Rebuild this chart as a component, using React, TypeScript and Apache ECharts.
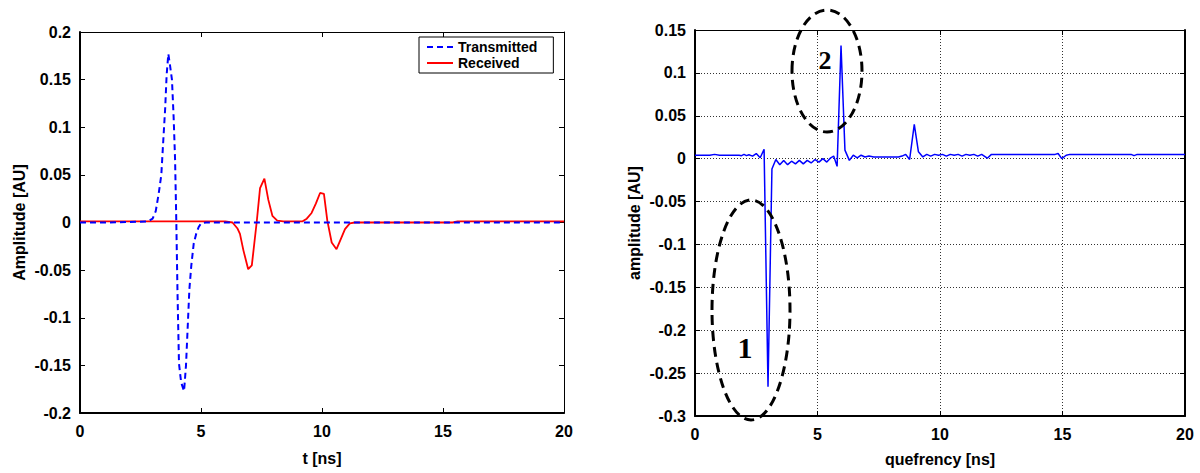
import React, { useEffect, useRef } from "react";
import * as echarts from "echarts";

// ---- Left plot: time-domain signals ----
const txT = [0, 1, 2, 2.5, 2.8, 3.0, 3.13, 3.25, 3.36, 3.45, 3.52, 3.58, 3.65, 3.72, 3.8, 3.87, 3.93, 3.98, 4.03, 4.09, 4.18, 4.3, 4.38, 4.45, 4.52, 4.6, 4.7, 4.8, 4.9, 5.0, 5.2, 8, 12, 16, 20];
const txV = [0, 0, 0.0005, 0.0008, 0.001, 0.004, 0.012, 0.03, 0.05, 0.09, 0.12, 0.155, 0.177, 0.165, 0.15, 0.11, 0.065, 0.0, -0.075, -0.148, -0.168, -0.177, -0.15, -0.11, -0.07, -0.045, -0.022, -0.012, -0.005, -0.001, 0, 0, 0, 0, 0];

const rxT = [0, 3, 6.0, 6.3, 6.5, 6.61, 6.75, 6.95, 7.1, 7.3, 7.44, 7.62, 7.78, 7.95, 8.15, 8.4, 9.2, 9.37, 9.57, 9.75, 9.92, 10.08, 10.22, 10.4, 10.6, 10.75, 10.95, 11.15, 11.35, 15.4, 15.6, 20];
const rxV = [0.0012, 0.0012, 0.0012, 0.0, -0.006, -0.012, -0.029, -0.049, -0.045, 0.0, 0.036, 0.046, 0.024, 0.007, 0.002, 0.0012, 0.0012, 0.004, 0.01, 0.02, 0.031, 0.03, 0.002, -0.021, -0.028, -0.019, -0.007, -0.001, 0.0, 0.0, 0.0012, 0.0012];

// ---- Right plot: cepstrum ----
const qT = [0, 0.6, 0.8, 1.0, 1.8, 1.9, 2.0, 2.1, 2.2, 2.35, 2.5, 2.66, 2.82, 2.98, 3.14, 3.3, 3.46, 3.62, 3.78, 3.94, 4.1, 4.26, 4.42, 4.58, 4.74, 4.9, 5.06, 5.22, 5.38, 5.54, 5.66, 5.8, 5.96, 6.12, 6.3, 6.46, 6.62, 6.78, 6.94, 7.1, 7.3, 8.0, 8.3, 8.45, 8.6, 8.76, 8.95, 9.12, 9.3, 9.46, 9.62, 9.78, 9.94, 10.1, 10.26, 10.42, 10.58, 10.74, 10.9, 11.06, 11.22, 11.38, 11.54, 11.7, 11.93, 12.1, 14.7, 14.82, 14.97, 15.15, 15.3, 15.5, 17.8, 17.92, 18.05, 20];
const qV = [0.004, 0.004, 0.005, 0.004, 0.004, 0.0035, 0.005, 0.0035, 0.0045, 0.003, 0.006, 0.001, 0.011, -0.266, -0.012, -0.001, -0.007, -0.002, -0.007, -0.003, -0.006, -0.002, -0.006, -0.002, -0.005, -0.001, -0.004, 0.0, -0.004, 0.001, 0.003, -0.009, 0.132, 0.01, -0.002, 0.004, 0.001, 0.004, 0.002, 0.003, 0.002, 0.002, 0.002, 0.003, 0.005, -0.001, 0.04, 0.008, 0.002, 0.005, 0.003, 0.005, 0.004, 0.005, 0.003, 0.005, 0.004, 0.005, 0.003, 0.005, 0.004, 0.005, 0.003, 0.005, 0.0005, 0.005, 0.005, 0.006, 0.0, 0.004, 0.005, 0.005, 0.005, 0.0035, 0.005, 0.005];

const leftTicks = { min: -0.2, max: 0.2, interval: 0.05 };
const rightTicks = { min: -0.3, max: 0.15, interval: 0.05 };

const FONT = '"Liberation Sans", Arial, Helvetica, sans-serif';

function zip(a: number[], b: number[]) {
  return a.map((x, i) => [x, b[i]]);
}

export default function App() {
  const ref = useRef<HTMLDivElement>(null);
  useEffect(() => {
    if (!ref.current) return;
    const chart = echarts.init(ref.current, null, { renderer: "svg" });
    const labelStyle = { color: "#000", fontSize: 16, fontWeight: "bold", fontFamily: FONT };
    const nameStyle = { color: "#000", fontSize: 16, fontWeight: "bold", fontFamily: FONT };
    const tick = { show: true, inside: true, length: 5, lineStyle: { color: "#000", width: 1 } };
    const gridLine = { show: true, lineStyle: { color: "#333", width: 1, type: [1, 2] } };
    const mainX = (gi: number, name: string, gap: number, split: boolean) => ({
      gridIndex: gi,
      type: "value",
      min: 0,
      max: 20,
      interval: 5,
      name,
      nameLocation: "middle",
      nameGap: gap,
      nameTextStyle: nameStyle,
      axisLine: { onZero: false, lineStyle: { color: "#000", width: 2 } },
      axisTick: tick,
      axisLabel: { ...labelStyle, margin: 10 },
      splitLine: split ? gridLine : { show: false },
    });
    const secX = (gi: number) => ({
      gridIndex: gi,
      type: "value",
      position: "top",
      min: 0,
      max: 20,
      interval: 5,
      axisLine: { onZero: false, lineStyle: { color: "#000", width: 1 } },
      axisTick: tick,
      axisLabel: { show: false },
      splitLine: { show: false },
    });
    const mainY = (gi: number, t: any, name: string, split: boolean) => ({
      gridIndex: gi,
      type: "value",
      min: t.min,
      max: t.max,
      interval: t.interval,
      name,
      nameLocation: "middle",
      nameGap: 53,
      nameTextStyle: nameStyle,
      axisLine: { show: true, onZero: false, lineStyle: { color: "#000", width: 2 } },
      axisTick: tick,
      axisLabel: { ...labelStyle, margin: 9 },
      splitLine: split ? gridLine : { show: false },
    });
    const secY = (gi: number, t: any, w: number) => ({
      gridIndex: gi,
      type: "value",
      position: "right",
      min: t.min,
      max: t.max,
      interval: t.interval,
      axisLine: { show: true, onZero: false, lineStyle: { color: "#000", width: w } },
      axisTick: tick,
      axisLabel: { show: false },
      splitLine: { show: false },
    });

    const option: any = {
      animation: false,
      backgroundColor: "#fff",
      grid: [
        { left: 80, top: 32, width: 484, height: 381 },
        { left: 695, top: 30, width: 490, height: 386 },
      ],
      xAxis: [mainX(0, "t [ns]", 37, false), secX(0), mainX(1, "quefrency [ns]", 35, true), secX(1)],
      yAxis: [mainY(0, leftTicks, "Amplitude [AU]", false), secY(0, leftTicks, 1), mainY(1, rightTicks, "amplitude [AU]", true), secY(1, rightTicks, 2)],
      legend: {
        data: ["Transmitted", "Received"],
        orient: "vertical",
        left: 419,
        top: 37,
        backgroundColor: "#fff",
        borderColor: "#000",
        borderWidth: 1,
        borderRadius: 0,
        padding: [3, 16, 3, 7],
        itemWidth: 26,
        itemHeight: 12,
        itemGap: 2,
        itemStyle: { opacity: 0 },
        textStyle: { color: "#000", fontSize: 14, fontWeight: "bold", fontFamily: FONT },
      },
      series: [
        {
          name: "Transmitted",
          type: "line",
          xAxisIndex: 0,
          yAxisIndex: 0,
          data: zip(txT, txV),
          showSymbol: false,
          symbol: "none",
          color: "#0000ff",
          lineStyle: { color: "#0000ff", width: 2, type: [6, 4] },
          z: 3,
        },
        {
          name: "Received",
          type: "line",
          xAxisIndex: 0,
          yAxisIndex: 0,
          data: zip(rxT, rxV),
          showSymbol: false,
          symbol: "none",
          color: "#ff0000",
          lineStyle: { color: "#ff0000", width: 1.8 },
          z: 2,
        },
        {
          name: "Cepstrum",
          type: "line",
          xAxisIndex: 2,
          yAxisIndex: 2,
          data: zip(qT, qV),
          showSymbol: false,
          symbol: "none",
          color: "#0000ff",
          lineStyle: { color: "#0000ff", width: 1.5 },
        },
      ],
      graphic: [
        {
          type: "ellipse",
          shape: { cx: 751, cy: 310, rx: 39, ry: 110 },
          style: { fill: "none", stroke: "#000", lineWidth: 3, lineDash: [10, 6] },
          z: 100,
        },
        {
          type: "ellipse",
          shape: { cx: 827, cy: 71, rx: 35, ry: 61 },
          style: { fill: "none", stroke: "#000", lineWidth: 3, lineDash: [10, 6] },
          z: 100,
        },
        {
          type: "text",
          x: 745,
          y: 347,
          style: { text: "1", font: 'bold 30px "Liberation Serif", "Times New Roman", serif', fill: "#000", align: "center", verticalAlign: "middle" },
          z: 100,
        },
        {
          type: "text",
          x: 825,
          y: 60,
          style: { text: "2", font: 'bold 26px "Liberation Serif", "Times New Roman", serif', fill: "#000", align: "center", verticalAlign: "middle" },
          z: 100,
        },
      ],
    };
    chart.setOption(option);
    return () => chart.dispose();
  }, []);
  return <div ref={ref} style={{ position: "absolute", left: 0, top: 0, width: 1200, height: 473 }} />;
}
